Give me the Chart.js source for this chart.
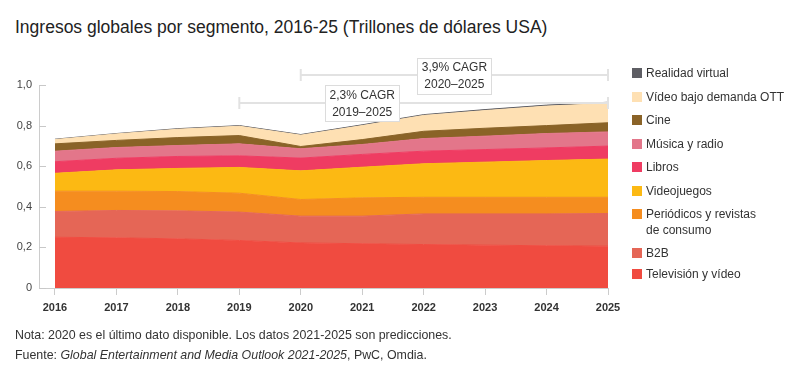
<!DOCTYPE html>
<html>
<head>
<meta charset="utf-8">
<script src="https://cdn.jsdelivr.net/npm/chart.js@4.4.1/dist/chart.umd.min.js"></script>
<style>
  html, body { margin: 0; padding: 0; background: #fff; }
  body { width: 800px; height: 384px; position: relative; overflow: hidden; font-family: "Liberation Sans", Arial, Helvetica, sans-serif; color: #333; }
  #title { position: absolute; left: 15px; top: 17px; font-size: 17.5px; color: #222; white-space: nowrap; }
  #chart { position: absolute; left: 0; top: 0; }
  #legend { position: absolute; left: 632px; top: 66px; display: flex; flex-direction: column; gap: 9px; }
  .item { display: flex; align-items: flex-start; font-size: 12px; line-height: 14.5px; color: #333; }
  .sw { width: 10px; height: 10px; margin-top: 2px; margin-right: 4px; flex: none; }
  .notes { position: absolute; left: 15px; font-size: 12.4px; color: #333; white-space: nowrap; }
</style>
</head>
<body>
<div id="title">Ingresos globales por segmento, 2016-25 (Trillones de dólares USA)</div>
<canvas id="chart" width="800" height="384"></canvas>
<div id="legend"></div>
<div class="notes" style="top:328px">Nota: 2020 es el último dato disponible. Los datos 2021-2025 son predicciones.</div>
<div class="notes" style="top:348px">Fuente: <i>Global Entertainment and Media Outlook 2021-2025</i>, PwC, Omdia.</div>
<script>
// ---- Data (trillones de dólares USA) ----
const years = [2016, 2017, 2018, 2019, 2020, 2021, 2022, 2023, 2024, 2025];
const yTicks = [0, 0.2, 0.4, 0.6, 0.8, 1.0];

const television   = [0.250, 0.247, 0.242, 0.234, 0.222, 0.218, 0.214, 0.211, 0.208, 0.206];
const b2b          = [0.127, 0.135, 0.138, 0.140, 0.132, 0.136, 0.151, 0.154, 0.157, 0.161];
const periodicos   = [0.100, 0.095, 0.095, 0.093, 0.082, 0.090, 0.082, 0.082, 0.082, 0.080];
const videojuegos  = [0.088, 0.105, 0.114, 0.127, 0.141, 0.151, 0.165, 0.173, 0.181, 0.188];
const libros       = [0.057, 0.057, 0.059, 0.057, 0.063, 0.063, 0.062, 0.062, 0.062, 0.064];
const musica       = [0.052, 0.053, 0.054, 0.059, 0.046, 0.049, 0.062, 0.066, 0.071, 0.070];
const cine         = [0.036, 0.035, 0.039, 0.041, 0.011, 0.024, 0.036, 0.039, 0.039, 0.045];
const ott          = [0.021, 0.032, 0.041, 0.046, 0.056, 0.069, 0.078, 0.087, 0.096, 0.095];
const realidad     = [0.002, 0.002, 0.003, 0.003, 0.003, 0.004, 0.004, 0.005, 0.005, 0.006];

const seriesNames = [
  "Televisión y vídeo", "B2B", "Periódicos y revistas\nde consumo", "Videojuegos",
  "Libros", "Música y radio", "Cine", "Vídeo bajo demanda OTT", "Realidad virtual"
];
const seriesValues = [television, b2b, periodicos, videojuegos, libros, musica, cine, ott, realidad];
const seriesColors = ["#f04b40", "#e56656", "#f58d1f", "#fcb913", "#ef3c62", "#e3768a", "#8a6327", "#fee0b3", "#5e5e64"];

const cagrNotes = [
  { from: 2020, to: 2025, center: 2022.5, lineY: 1.049, boxY: 1.044, lines: ["3,9% CAGR", "2020–2025"] },
  { from: 2019, to: 2025, center: 2021.0, lineY: 0.912, boxY: 0.910, lines: ["2,3% CAGR", "2019–2025"] }
];

// ---- Legend (top = last series) ----
const legend = document.getElementById('legend');
for (let i = seriesNames.length - 1; i >= 0; i--) {
  const it = document.createElement('div');
  it.className = 'item';
  if (i === 2) it.style.marginBottom = '-1px';
  if (i === 1) it.style.marginBottom = '-3px';
  const sw = document.createElement('div');
  sw.className = 'sw';
  sw.style.background = seriesColors[i];
  const tx = document.createElement('div');
  tx.innerHTML = seriesNames[i].replace('\n', '<br>');
  if (i === 2) tx.style.lineHeight = '15.5px';
  it.appendChild(sw); it.appendChild(tx);
  legend.appendChild(it);
}

// ---- Plugins ----
const innerTicks = {
  id: 'innerTicks',
  afterDraw(chart) {
    const { ctx, chartArea, scales } = chart;
    ctx.save();
    ctx.strokeStyle = '#c8c8c8';
    ctx.lineWidth = 1;
    yTicks.forEach(v => {
      const y = Math.round(scales.y.getPixelForValue(v)) + 0.5;
      ctx.beginPath();
      ctx.moveTo(chartArea.left, y);
      ctx.lineTo(chartArea.left + 7, y);
      ctx.stroke();
    });
    ctx.restore();
  }
};

const cagrPlugin = {
  id: 'cagr',
  afterDatasetsDraw(chart) {
    const { ctx, scales } = chart;
    const xs = scales.x, ys = scales.y;
    ctx.save();
    cagrNotes.forEach(n => {
      const x1 = xs.getPixelForValue(n.from), x2 = xs.getPixelForValue(n.to);
      const y = Math.round(ys.getPixelForValue(n.lineY));
      ctx.strokeStyle = '#e2e2e2';
      ctx.lineWidth = 2;
      ctx.beginPath();
      ctx.moveTo(x1, y); ctx.lineTo(x2, y);
      ctx.moveTo(x1, y - 6); ctx.lineTo(x1, y + 6);
      ctx.moveTo(x2, y - 6); ctx.lineTo(x2, y + 6);
      ctx.stroke();
      const cx = xs.getPixelForValue(n.center);
      const cy = ys.getPixelForValue(n.boxY);
      const w = 74, h = 36;
      ctx.fillStyle = '#fff';
      ctx.fillRect(Math.round(cx - w / 2) + 0.5, Math.round(cy - h / 2) + 0.5, w, h);
      ctx.strokeStyle = '#dcdcdc';
      ctx.lineWidth = 1;
      ctx.strokeRect(Math.round(cx - w / 2) + 0.5, Math.round(cy - h / 2) + 0.5, w, h);
      ctx.fillStyle = '#333';
      ctx.font = '12px "Liberation Sans", Arial, sans-serif';
      ctx.textAlign = 'center';
      ctx.textBaseline = 'middle';
      ctx.fillText(n.lines[0], cx, cy - 8);
      ctx.fillText(n.lines[1], cx, cy + 9);
    });
    ctx.restore();
  }
};

// ---- Chart ----
const datasets = seriesValues.map((vals, i) => ({
  label: seriesNames[i],
  data: years.map((yr, j) => ({ x: yr, y: vals[j] })),
  backgroundColor: seriesColors[i],
  borderColor: seriesColors[i],
  borderWidth: 1,
  pointRadius: 0,
  pointHoverRadius: 0,
  tension: 0,
  fill: i === 0 ? 'origin' : '-1'
}));

new Chart(document.getElementById('chart'), {
  type: 'line',
  data: { datasets },
  plugins: [innerTicks, cagrPlugin],
  options: {
    responsive: false,
    animation: false,
    devicePixelRatio: 1,
    layout: { padding: { top: 85, right: 192, left: 0, bottom: 0 } },
    plugins: { legend: { display: false }, tooltip: { enabled: false } },
    scales: {
      x: {
        type: 'linear',
        min: 2015.74,
        max: 2025,
        afterBuildTicks: s => { s.ticks = years.map(v => ({ value: v })); },
        afterFit: s => { s.height = 96; },
        grid: { drawOnChartArea: false, drawTicks: true, tickLength: 7, color: '#cccccc' },
        border: { color: '#cccccc' },
        ticks: {
          padding: 6,
          color: '#333',
          font: { family: '"Liberation Sans", Arial, sans-serif', size: 11, weight: 'bold' },
          callback: v => String(v),
          maxRotation: 0
        }
      },
      y: {
        stacked: true,
        min: 0,
        max: 1,
        afterBuildTicks: s => { s.ticks = yTicks.map(v => ({ value: v })); },
        afterFit: s => { s.width = 39; },
        grid: { drawOnChartArea: false, drawTicks: false },
        border: { color: '#cccccc' },
        ticks: {
          padding: 7,
          color: '#444',
          font: { family: '"Liberation Sans", Arial, sans-serif', size: 11 },
          callback: v => v === 0 ? '0' : v.toFixed(1).replace('.', ',')
        }
      }
    }
  }
});
</script>
</body>
</html>
